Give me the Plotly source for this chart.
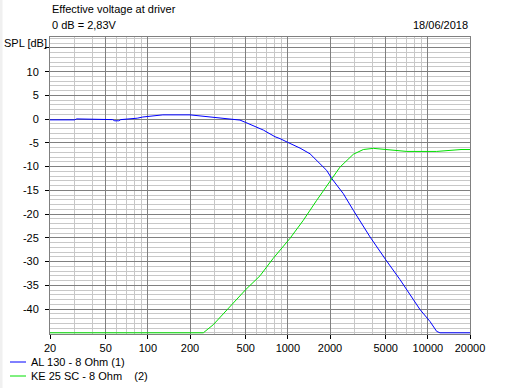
import plotly.graph_objects as go

# ---- data ----
blue_name = "AL 130 - 8 Ohm (1)"
blue_freq = [20, 30, 31, 44, 46, 56, 58, 62, 64, 72, 84, 92, 109, 128, 200, 236, 292, 344, 400,
             455, 500, 570, 668, 809, 879, 1000, 1222, 1440, 1697, 1894, 2058, 2490, 2935, 3862,
             5000, 6325, 8790, 10350, 11560, 12200, 20000]
blue_db = [-0.15, -0.15, 0.05, 0.05, -0.1, -0.1, -0.35, -0.35, -0.1, 0.0, 0.2, 0.45, 0.7, 0.9, 0.9,
           0.7, 0.45, 0.25, 0.05, -0.2, -0.7, -1.4, -2.3, -3.7, -4.1, -4.9, -6.1, -7.3, -9.4, -10.8,
           -12.5, -15.7, -19.2, -24.8, -29.6, -33.8, -40.1, -42.6, -44.7, -45.0, -45.0]

green_name = "KE 25 SC - 8 Ohm\u00a0\u00a0\u00a0\u00a0(2)"
green_freq = [20, 249, 293, 366, 500, 632, 787, 1036, 1290, 1607, 2000, 2356, 2935, 3459, 4080,
              4940, 5990, 7060, 11560, 13650, 17250, 20000]
green_db = [-45.0, -45.0, -43.3, -40.3, -35.9, -33.0, -29.3, -25.1, -21.3, -17.1, -13.0, -10.1,
            -7.4, -6.4, -6.15, -6.36, -6.6, -6.8, -6.8, -6.6, -6.4, -6.4]

x_major = [20, 50, 100, 200, 500, 1000, 2000, 5000, 10000, 20000]
x_minor = [30, 40, 60, 70, 80, 90, 300, 400, 600, 700, 800, 900,
           3000, 4000, 6000, 7000, 8000, 9000]
y_ticks = [15, 10, 5, 0, -5, -10, -15, -20, -25, -30, -35, -40]
y_labels = ["", "10", "5", "0", "-5", "-10", "-15", "-20", "-25", "-30", "-35", "-40"]

title_1 = "Effective voltage at driver"
title_2 = "0 dB = 2,83V"
date_text = "18/06/2018"
y_title = "SPL [dB]"

BLUE = "#0000ff"
GREEN = "#00e000"
DARK = "#808080"
LIGHT = "#c8c8c8"
FONT = "Liberation Sans, Arial, sans-serif"

W, H = 510, 388
L, R, T, B = 50, 40, 37, 54
PW, PH = W - L - R, H - T - B

def px(xp):
    return (xp - L) / PW

def py(yp):
    return (H - B - yp) / PH

fig = go.Figure()
fig.add_trace(go.Scatter(x=blue_freq, y=blue_db, mode="lines", name=blue_name,
                         line=dict(color=BLUE, width=1), showlegend=False))
fig.add_trace(go.Scatter(x=green_freq, y=green_db, mode="lines", name=green_name,
                         line=dict(color=GREEN, width=1), showlegend=False))

fig.update_xaxes(type="log", range=[1.30103, 4.30103], tickvals=x_major,
                 ticktext=[str(v) for v in x_major],
                 showgrid=True, gridcolor=DARK, gridwidth=1,
                 ticks="outside", ticklen=4, tickcolor="#000000",
                 showline=True, linecolor=DARK, mirror=True, zeroline=False,
                 tickfont=dict(family=FONT, size=11, color="#000"),
                 minor=dict(tickvals=x_minor, showgrid=True, gridcolor=LIGHT, ticks=""))
fig.update_yaxes(range=[-45.25, 17.3], tickvals=y_ticks, ticktext=y_labels,
                 showgrid=True, gridcolor=DARK, gridwidth=1,
                 ticks="outside", ticklen=4, tickcolor="#000000", ticklabelstandoff=4,
                 showline=True, linecolor=DARK, mirror=True, zeroline=False,
                 tickfont=dict(family=FONT, size=11, color="#000"),
                 minor=dict(dtick=1, showgrid=True, gridcolor=LIGHT, ticks=""))

annos = [
    dict(text=title_1, x=px(50), y=py(9), xanchor="left", yanchor="middle"),
    dict(text=title_2, x=px(50), y=py(25), xanchor="left", yanchor="middle"),
    dict(text=date_text, x=px(470), y=py(25), xanchor="right", yanchor="middle"),
    dict(text=y_title, x=px(2), y=py(43), xanchor="left", yanchor="middle"),
    dict(text=blue_name, x=px(29), y=py(362), xanchor="left", yanchor="middle"),
    dict(text=green_name, x=px(29), y=py(376), xanchor="left", yanchor="middle"),
]
for a in annos:
    fig.add_annotation(xref="paper", yref="paper", showarrow=False,
                       font=dict(family=FONT, size=11, color="#000"), **a)

shapes = [
    dict(type="line", xref="paper", yref="paper", x0=px(10), x1=px(26), y0=py(362), y1=py(362),
         line=dict(color=BLUE, width=1)),
    dict(type="line", xref="paper", yref="paper", x0=px(10), x1=px(26), y0=py(376), y1=py(376),
         line=dict(color=GREEN, width=1)),
    dict(type="rect", xref="paper", yref="paper", x0=px(0), x1=px(2.5), y0=py(H), y1=py(0),
         line=dict(width=0), fillcolor="#f0f0f0", layer="below"),
]
for s in shapes:
    fig.add_shape(**s)

fig.update_layout(width=W, height=H, margin=dict(l=L, r=R, t=T, b=B, pad=0),
                  paper_bgcolor="#ffffff", plot_bgcolor="#ffffff", showlegend=False,
                  font=dict(family=FONT, size=11, color="#000"))

fig.write_html("out.html", config={"displayModeBar": False},
               post_script="document.body.style.margin='0';document.body.style.padding='0';")
